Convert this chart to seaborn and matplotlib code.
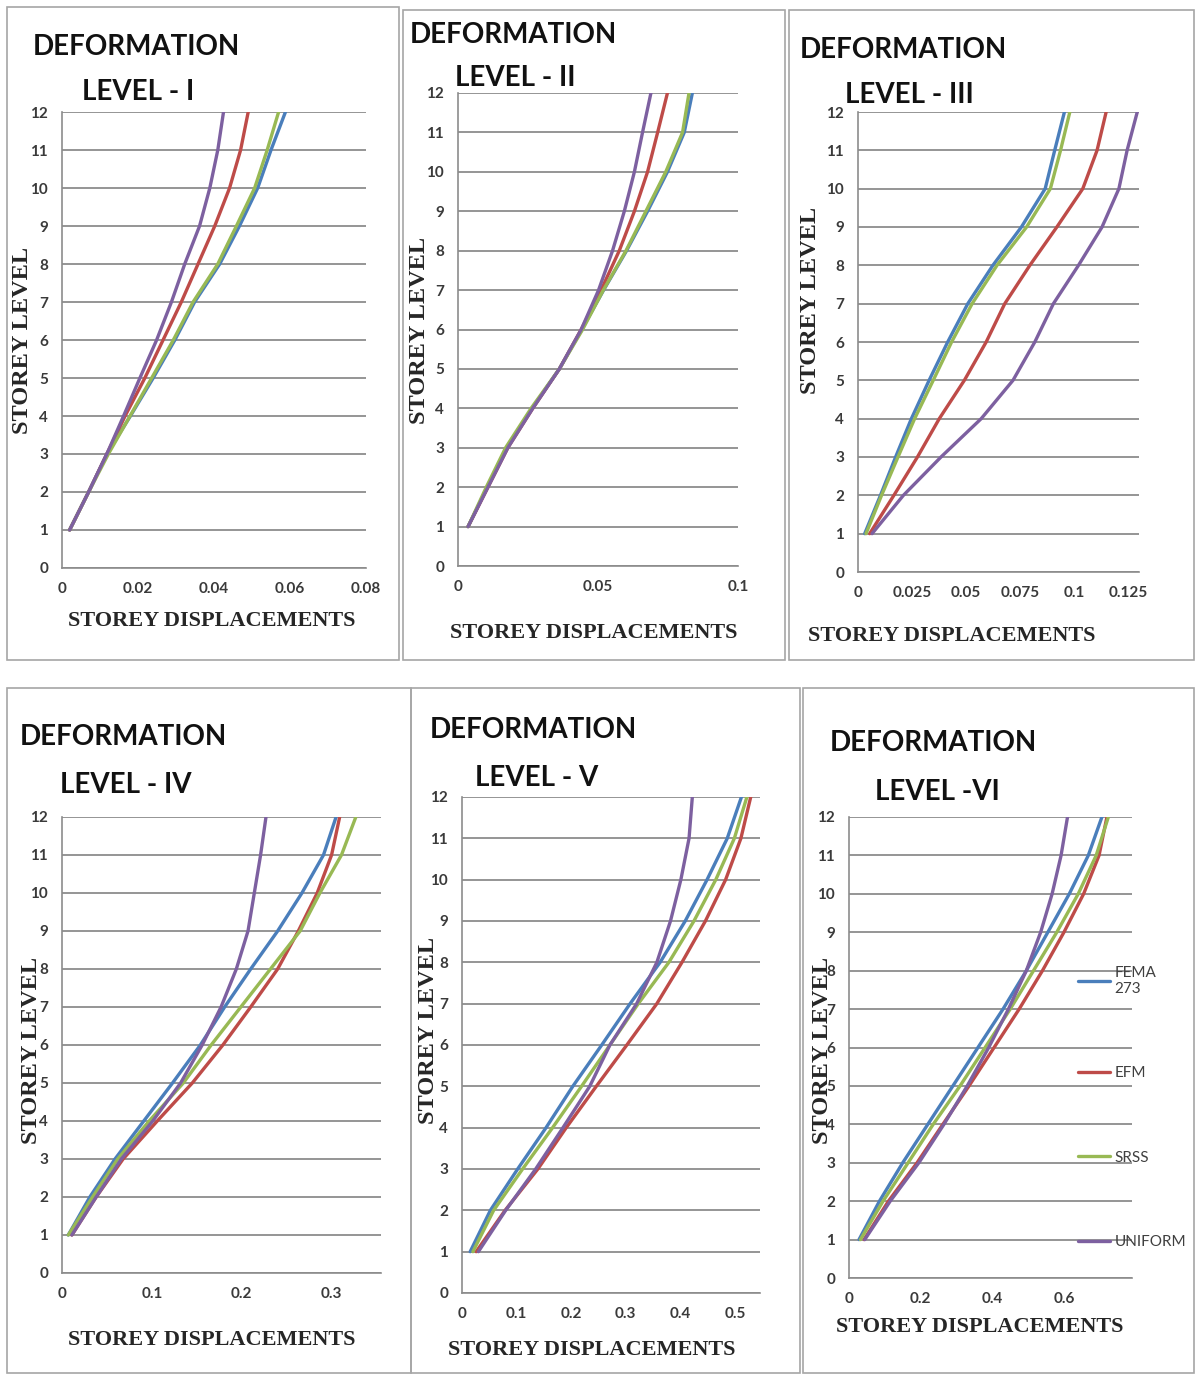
import matplotlib
matplotlib.use("Agg")
import matplotlib.pyplot as plt
from matplotlib.patches import Rectangle
import seaborn as sns
import pandas as pd

W, H = 1195, 1374

storeys = list(range(1, 13))
methods = ["FEMA\n273", "EFM", "SRSS", "UNIFORM"]
colors = ["#4A7EBB", "#BE4B48", "#98B954", "#7D60A0"]

# deformation level I
fema_1 = [0.002, 0.007, 0.0118, 0.018, 0.024, 0.0297, 0.0349, 0.0415, 0.0467, 0.0515, 0.055, 0.0588]
efm_1 = [0.002, 0.007, 0.0118, 0.0166, 0.0218, 0.0266, 0.0314, 0.0358, 0.0402, 0.0441, 0.047, 0.049]
srss_1 = [0.002, 0.007, 0.0122, 0.0179, 0.0236, 0.0293, 0.0345, 0.041, 0.0459, 0.0507, 0.054, 0.057]
uniform_1 = [0.002, 0.007, 0.0118, 0.0162, 0.0205, 0.0249, 0.0288, 0.0323, 0.0362, 0.0389, 0.041, 0.0425]

# deformation level II
fema_2 = [0.0036, 0.0105, 0.0176, 0.0265, 0.0362, 0.0442, 0.052, 0.0602, 0.0677, 0.0748, 0.0808, 0.0837]
efm_2 = [0.0036, 0.0107, 0.0178, 0.0267, 0.0362, 0.044, 0.0511, 0.0576, 0.063, 0.0677, 0.0713, 0.0748]
srss_2 = [0.0036, 0.0101, 0.017, 0.0261, 0.0362, 0.0445, 0.0519, 0.06, 0.0671, 0.0742, 0.0802, 0.0825]
uniform_2 = [0.0036, 0.0107, 0.0178, 0.0267, 0.0362, 0.044, 0.0502, 0.0552, 0.0594, 0.063, 0.0659, 0.0689]

# deformation level III
fema_3 = [0.0031, 0.0104, 0.0174, 0.0247, 0.0329, 0.0415, 0.0508, 0.0624, 0.0756, 0.0866, 0.091, 0.0955]
efm_3 = [0.0054, 0.0166, 0.0275, 0.0376, 0.0492, 0.0593, 0.0679, 0.0795, 0.092, 0.104, 0.1106, 0.1148]
srss_3 = [0.0037, 0.0109, 0.0185, 0.0262, 0.0348, 0.0433, 0.0528, 0.0643, 0.078, 0.089, 0.0937, 0.098]
uniform_3 = [0.0065, 0.021, 0.0384, 0.057, 0.0717, 0.0818, 0.0904, 0.102, 0.1129, 0.1207, 0.1245, 0.1292]

# deformation level IV
fema_4 = [0.007, 0.031, 0.059, 0.091, 0.123, 0.154, 0.181, 0.21, 0.24, 0.267, 0.291, 0.305]
efm_4 = [0.011, 0.038, 0.068, 0.106, 0.145, 0.179, 0.21, 0.24, 0.263, 0.284, 0.3, 0.309]
srss_4 = [0.007, 0.034, 0.062, 0.097, 0.135, 0.166, 0.199, 0.232, 0.265, 0.287, 0.311, 0.327]
uniform_4 = [0.011, 0.038, 0.066, 0.101, 0.132, 0.156, 0.177, 0.194, 0.207, 0.214, 0.221, 0.227]

# deformation level V
fema_5 = [0.015, 0.052, 0.102, 0.154, 0.203, 0.256, 0.308, 0.363, 0.409, 0.449, 0.486, 0.512]
efm_5 = [0.026, 0.079, 0.139, 0.191, 0.246, 0.302, 0.357, 0.403, 0.446, 0.483, 0.511, 0.529]
srss_5 = [0.02, 0.058, 0.111, 0.166, 0.219, 0.271, 0.323, 0.379, 0.425, 0.465, 0.499, 0.522]
uniform_5 = [0.03, 0.08, 0.135, 0.185, 0.234, 0.271, 0.32, 0.357, 0.382, 0.401, 0.416, 0.422]

# deformation level VI
fema_6 = [0.028, 0.085, 0.15, 0.22, 0.29, 0.36, 0.43, 0.495, 0.555, 0.615, 0.668, 0.706]
efm_6 = [0.042, 0.11, 0.19, 0.262, 0.335, 0.405, 0.475, 0.54, 0.6, 0.655, 0.698, 0.72]
srss_6 = [0.032, 0.095, 0.165, 0.235, 0.31, 0.38, 0.45, 0.515, 0.58, 0.64, 0.69, 0.724]
uniform_6 = [0.044, 0.115, 0.195, 0.265, 0.33, 0.39, 0.445, 0.495, 0.535, 0.567, 0.592, 0.61]

panels = [
    dict(level="LEVEL - I", series=[fema_1, efm_1, srss_1, uniform_1], xmax=0.08,
         xticks=[0, 0.02, 0.04, 0.06, 0.08], frame=(7, 7, 399, 660), box=(62, 112, 366, 568),
         t1=(33, 47), t2=(82, 92), ylab=(23, 340), xlab=(212, 621)),
    dict(level="LEVEL - II", series=[fema_2, efm_2, srss_2, uniform_2], xmax=0.1,
         xticks=[0, 0.05, 0.1], frame=(403, 10, 785, 660), box=(458, 93, 738, 566),
         t1=(410, 35), t2=(455, 78), ylab=(420, 330), xlab=(594, 633)),
    dict(level="LEVEL - III", series=[fema_3, efm_3, srss_3, uniform_3], xmax=0.13,
         xticks=[0, 0.025, 0.05, 0.075, 0.1, 0.125], frame=(789, 10, 1194, 660), box=(858, 112, 1139, 572),
         t1=(800, 50), t2=(845, 95), ylab=(810, 300), xlab=(952, 636)),
    dict(level="LEVEL - IV", series=[fema_4, efm_4, srss_4, uniform_4], xmax=0.355,
         xticks=[0, 0.1, 0.2, 0.3], frame=(7, 688, 411, 1373), box=(62, 817, 381, 1273),
         t1=(20, 737), t2=(60, 785), ylab=(32, 1050), xlab=(212, 1340)),
    dict(level="LEVEL - V", series=[fema_5, efm_5, srss_5, uniform_5], xmax=0.546,
         xticks=[0, 0.1, 0.2, 0.3, 0.4, 0.5], frame=(411, 688, 800, 1373), box=(462, 797, 760, 1293),
         t1=(430, 730), t2=(475, 778), ylab=(428, 1030), xlab=(592, 1350)),
    dict(level="LEVEL -VI", series=[fema_6, efm_6, srss_6, uniform_6], xmax=0.79,
         xticks=[0, 0.2, 0.4, 0.6], frame=(803, 688, 1194, 1373), box=(849, 817, 1132, 1278),
         t1=(830, 743), t2=(875, 792), ylab=(822, 1050), xlab=(980, 1327)),
]

sns.set_style("white")
plt.rcParams["font.family"] = ["Lato", "DejaVu Sans"]

fig = plt.figure(figsize=(W / 100, H / 100), dpi=100)
grid_col = "#8C8C8C"


def fx(x):
    return x / W


def fy(y):
    return 1 - y / H


for i, p in enumerate(panels):
    x0, y0, x1, y1 = p["frame"]
    fig.patches.append(Rectangle((fx(x0), fy(y1)), fx(x1 - x0), (y1 - y0) / H,
                                 transform=fig.transFigure, fill=False,
                                 edgecolor="#A6A6A6", linewidth=1.2))

    l, t, r, b = p["box"]
    ax = fig.add_axes([fx(l), fy(b), fx(r - l), (b - t) / H])

    rows = []
    for m, vals in zip(methods, p["series"]):
        for s, v in zip(storeys, vals):
            rows.append({"disp": v, "storey": s, "method": m})
    df = pd.DataFrame(rows)

    sns.lineplot(data=df, x="disp", y="storey", hue="method", palette=colors,
                 hue_order=methods, sort=False, estimator=None, linewidth=2.4,
                 legend=(i == 5), ax=ax)

    ax.set_xlim(0, p["xmax"])
    ax.set_ylim(0, 12)
    ax.set_xticks(p["xticks"])
    ax.set_xticklabels([f"{v:g}" for v in p["xticks"]])
    ax.set_yticks(range(13))
    ax.grid(axis="y", color=grid_col, linewidth=1.3)
    ax.set_axisbelow(True)
    for side in ["top", "right"]:
        ax.spines[side].set_visible(False)
    for side in ["left", "bottom"]:
        ax.spines[side].set_color(grid_col)
        ax.spines[side].set_linewidth(1.2)
    ax.tick_params(axis="both", which="major", direction="out", length=5, width=1,
                   color=grid_col, labelsize=11, labelcolor="#3A3A3A", pad=5)
    for lab in ax.get_xticklabels() + ax.get_yticklabels():
        lab.set_fontweight("bold")

    ax.set_xlabel("")
    ax.set_ylabel("")

    fig.text(fx(p["t1"][0]), fy(p["t1"][1]), "DEFORMATION", fontsize=20,
             fontweight="bold", ha="left", va="center", color="#111111")
    fig.text(fx(p["t2"][0]), fy(p["t2"][1]), p["level"], fontsize=20,
             fontweight="bold", ha="left", va="center", color="#111111")
    fig.text(fx(p["xlab"][0]), fy(p["xlab"][1]), "STOREY DISPLACEMENTS",
             fontsize=16, fontweight="bold", family="Liberation Serif",
             ha="center", va="center")
    fig.text(fx(p["ylab"][0]), fy(p["ylab"][1]), "STOREY LEVEL",
             fontsize=17.5, fontweight="bold", family="Liberation Serif",
             ha="center", va="center", rotation=90)

    if i == 5:
        handles, labels = ax.get_legend_handles_labels()
        ax.legend(handles, labels, loc="upper left",
                  bbox_to_anchor=(fx(1078), fy(966)), bbox_transform=fig.transFigure,
                  frameon=False, fontsize=11, labelcolor="#404040",
                  handlelength=2.1, handletextpad=0.3, labelspacing=4.6,
                  borderpad=0, borderaxespad=0)

fig.savefig("out.png", dpi=100, facecolor="white")
